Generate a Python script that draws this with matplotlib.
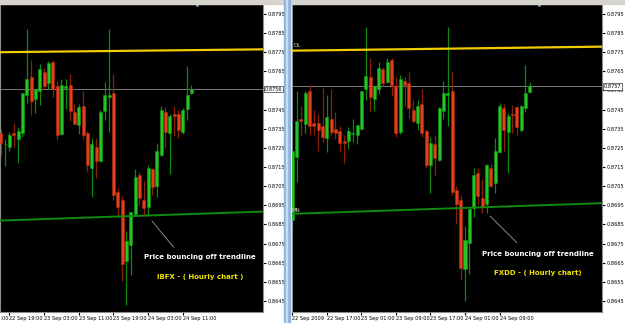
import matplotlib
matplotlib.use('Agg')
import matplotlib.pyplot as plt
from matplotlib.patches import Rectangle
import numpy as np

# ---- IBFX hourly candles (left chart) ----
ibfx_open = [0.87327, 0.87268, 0.87257, 0.87327, 0.87297, 0.87327, 0.87527, 0.87618, 0.87506, 0.87548,
             0.87649, 0.87588, 0.87701, 0.87571, 0.87323, 0.87562, 0.87579, 0.87436, 0.87367, 0.87470,
             0.87330, 0.87144, 0.87257, 0.87179, 0.87445, 0.87518, 0.87539, 0.87017, 0.86978, 0.86656,
             0.86743, 0.86905, 0.87109, 0.86978, 0.86940, 0.87139, 0.87051, 0.87213, 0.87440, 0.87327,
             0.87426, 0.87426, 0.87335, 0.87452, 0.87536]
ibfx_high = [0.87348, 0.87297, 0.87335, 0.87379, 0.87358, 0.87539, 0.87870, 0.87710, 0.87557, 0.87689,
             0.87670, 0.87706, 0.87710, 0.87600, 0.87609, 0.87609, 0.87637, 0.87480, 0.87480, 0.87548,
             0.87339, 0.87301, 0.87301, 0.87449, 0.87592, 0.87870, 0.87637, 0.87039, 0.86996, 0.86818,
             0.86917, 0.87139, 0.87126, 0.87078, 0.87161, 0.87144, 0.87278, 0.87470, 0.87463, 0.87428,
             0.87470, 0.87449, 0.87457, 0.87680, 0.87579]
ibfx_low = [0.87205, 0.87153, 0.87234, 0.87252, 0.87173, 0.87306, 0.87484, 0.87423, 0.87431, 0.87475,
            0.87557, 0.87557, 0.87515, 0.87292, 0.87318, 0.87452, 0.87393, 0.87375, 0.87323, 0.87295,
            0.87125, 0.86992, 0.87092, 0.87175, 0.87396, 0.87335, 0.86978, 0.86891, 0.86552, 0.86430,
            0.86586, 0.86900, 0.86952, 0.86900, 0.86900, 0.87004, 0.86992, 0.87208, 0.87248, 0.87114,
            0.87313, 0.87301, 0.87323, 0.87396, 0.87531]
ibfx_close = [0.87274, 0.87271, 0.87318, 0.87318, 0.87339, 0.87536, 0.87609, 0.87497, 0.87557, 0.87661,
              0.87574, 0.87691, 0.87557, 0.87318, 0.87579, 0.87571, 0.87445, 0.87375, 0.87461, 0.87316,
              0.87158, 0.87271, 0.87182, 0.87440, 0.87527, 0.87527, 0.87004, 0.86943, 0.86644, 0.86761,
              0.86917, 0.87100, 0.86987, 0.86938, 0.87147, 0.87048, 0.87231, 0.87449, 0.87335, 0.87414,
              0.87417, 0.87344, 0.87449, 0.87527, 0.87557]
ibfx_tick_bars = [-6, 2, 10, 18, 26, 34, 42]
ibfx_tick_labels = ['22 Sep 11:00', '22 Sep 19:00', '23 Sep 03:00', '23 Sep 11:00',
                    '23 Sep 19:00', '24 Sep 03:00', '24 Sep 11:00']
ibfx_resist = [0.87750, 0.87765]   # yellow line, left end / right end
ibfx_support = [0.86870, 0.86917]  # green trendline

# ---- FXDD hourly candles (right chart) ----
fxdd_open = [0.86874, 0.87200, 0.87400, 0.87375, 0.87548, 0.87379, 0.87379, 0.87362, 0.87301, 0.87400,
             0.87349, 0.87339, 0.87288, 0.87288, 0.87325, 0.87318, 0.87348, 0.87557, 0.87619, 0.87506,
             0.87558, 0.87661, 0.87595, 0.87710, 0.87571, 0.87335, 0.87600, 0.87588, 0.87449, 0.87379,
             0.87480, 0.87339, 0.87158, 0.87269, 0.87184, 0.87445, 0.87527, 0.87548, 0.87031, 0.86978,
             0.86616, 0.86755, 0.86935, 0.87118, 0.86987, 0.86957, 0.87147, 0.87065, 0.87226, 0.87457,
             0.87332, 0.87428, 0.87463, 0.87341, 0.87457, 0.87544]
fxdd_high = [0.87231, 0.87548, 0.87470, 0.87548, 0.87578, 0.87449, 0.87428, 0.87567, 0.87527, 0.87558,
             0.87436, 0.87365, 0.87318, 0.87358, 0.87400, 0.87367, 0.87548, 0.87881, 0.87722, 0.87579,
             0.87701, 0.87675, 0.87719, 0.87719, 0.87619, 0.87632, 0.87619, 0.87649, 0.87501, 0.87501,
             0.87558, 0.87349, 0.87309, 0.87318, 0.87461, 0.87600, 0.87881, 0.87649, 0.87053, 0.87001,
             0.86839, 0.86931, 0.87147, 0.87147, 0.87086, 0.87166, 0.87166, 0.87301, 0.87484, 0.87480,
             0.87431, 0.87475, 0.87470, 0.87473, 0.87684, 0.87592]
fxdd_low = [0.86813, 0.87071, 0.87315, 0.87327, 0.87315, 0.87318, 0.87234, 0.87283, 0.87226, 0.87318,
            0.87295, 0.87226, 0.87173, 0.87245, 0.87283, 0.87271, 0.87344, 0.87501, 0.87435, 0.87445,
            0.87532, 0.87571, 0.87588, 0.87522, 0.87306, 0.87323, 0.87470, 0.87405, 0.87379, 0.87344,
            0.87306, 0.87144, 0.87013, 0.87104, 0.87180, 0.87402, 0.87362, 0.87004, 0.86853, 0.86560,
            0.86452, 0.86592, 0.86891, 0.86952, 0.86909, 0.86909, 0.87048, 0.87013, 0.87222, 0.87231,
            0.87121, 0.87330, 0.87315, 0.87335, 0.87435, 0.87539]
fxdd_close = [0.87231, 0.87391, 0.87388, 0.87539, 0.87365, 0.87365, 0.87344, 0.87306, 0.87410, 0.87335,
              0.87327, 0.87278, 0.87274, 0.87339, 0.87330, 0.87367, 0.87548, 0.87628, 0.87518, 0.87571,
              0.87666, 0.87588, 0.87699, 0.87579, 0.87327, 0.87609, 0.87576, 0.87457, 0.87388, 0.87470,
              0.87327, 0.87161, 0.87274, 0.87196, 0.87457, 0.87539, 0.87539, 0.87017, 0.86957, 0.86621,
              0.86769, 0.86931, 0.87109, 0.86996, 0.86943, 0.87158, 0.87053, 0.87236, 0.87470, 0.87344,
              0.87419, 0.87423, 0.87358, 0.87470, 0.87539, 0.87571]
fxdd_tick_bars = [0, 8, 16, 24, 32, 40, 48]
fxdd_tick_labels = ['22 Sep 2009', '22 Sep 17:00', '23 Sep 01:00', '23 Sep 09:00',
                    '23 Sep 17:00', '24 Sep 01:00', '24 Sep 09:00']
fxdd_resist = [0.87758, 0.87779]
fxdd_support = [0.86905, 0.86961]

price_ticks = [0.8795, 0.8785, 0.8775, 0.8765, 0.8755, 0.8745, 0.8735, 0.8725,
               0.8715, 0.8705, 0.8695, 0.8685, 0.8675, 0.8665, 0.8655, 0.8645]

UP, DOWN = '#25c425', '#e2401c'
UP_W, DOWN_W = '#0c8a0c', '#8a2008'


def draw_chart(ax, o, h, l, c, xlim, tick_bars, tick_labels, resist, support,
               note, arrow, text_at, shift_bar):
    o, h, l, c = map(np.array, (o, h, l, c))
    x = np.arange(len(o))
    up = c >= o
    ax.set_facecolor('black')

    ax.vlines(x[up], l[up], h[up], color=UP_W, lw=0.9, zorder=2)
    ax.vlines(x[~up], l[~up], h[~up], color=DOWN_W, lw=0.9, zorder=2)
    bot = np.minimum(o, c)
    hgt = np.maximum(np.abs(c - o), 0.00002)
    ax.bar(x[up], hgt[up], bottom=bot[up], width=0.7, color=UP,
           edgecolor='#139a13', lw=0.4, zorder=3)
    ax.bar(x[~up], hgt[~up], bottom=bot[~up], width=0.7, color=DOWN,
           edgecolor='#b02a0a', lw=0.4, zorder=3)

    # trendlines
    ax.plot(xlim, resist, color='#f0cc00', lw=1.6, zorder=4)
    ax.plot(xlim, support, color='#108a10', lw=1.4, zorder=4)
    # current price line
    ax.axhline(c[-1], color='#7a7a7a', lw=0.7, zorder=1)
    ax.text(1.004, c[-1], f'{c[-1]:.4f}', transform=ax.get_yaxis_transform(),
            fontsize=3.6, va='center', ha='left', clip_on=False, zorder=10,
            bbox=dict(boxstyle='square,pad=0.12', fc='white', ec='black', lw=0.4))

    ax.yaxis.tick_right()
    ax.set_yticks(price_ticks)
    ax.set_yticklabels([f'{p:.4f}' for p in price_ticks])
    ax.tick_params(axis='y', labelsize=3.6, length=2, pad=1, colors='black')
    ax.set_xticks(tick_bars)
    ax.set_xticklabels(tick_labels, ha='left')
    ax.tick_params(axis='x', labelsize=3.6, length=2, pad=1, colors='black')
    # limits after ticks so out-of-range ticks do not widen the view
    ax.set_xlim(*xlim)
    ax.set_ylim(0.86392, 0.88002)
    for sp in ax.spines.values():
        sp.set_color('#8c8c8c')
        sp.set_linewidth(0.8)

    # date label that starts left of the visible window (cut by the edge)
    xt = ax.get_xaxis_transform()
    for b, lab in zip(tick_bars, tick_labels):
        if b < xlim[0]:
            ax.text(b, -0.012, lab, transform=xt, fontsize=3.6, ha='left', va='top',
                    clip_on=False)

    # chart-shift marker at the top edge
    ax.plot([shift_bar], [1.0], marker='v', ms=3, color='#8aa4c0', transform=xt,
            clip_on=False, zorder=6)

    ax.plot([arrow[0], arrow[2]], [arrow[1], arrow[3]], color='#9a9a9a', lw=0.6, zorder=4)
    ax.text(text_at[0], text_at[1], 'Price bouncing off trendline', color='white',
            fontsize=5.0, fontweight='bold', ha='center', va='center')
    ax.text(text_at[0], text_at[2], note, color='#f0e000',
            fontsize=5.0, fontweight='bold', ha='center', va='center')


fig = plt.figure(figsize=(6.25, 3.23), dpi=100, facecolor='white')
fig.patches.append(Rectangle((0, 1 - 3.5 / 323), 1, 3.5 / 323, transform=fig.transFigure,
                             color='#d6d3ce', zorder=0))
fig.patches.append(Rectangle((284 / 625, 0), 5.5 / 625, 1, transform=fig.transFigure,
                             color='#8fb2dc', zorder=0))
fig.patches.append(Rectangle((285.8 / 625, 0), 1.6 / 625, 1, transform=fig.transFigure,
                             color='#c9dcf2', zorder=0))

bottom, height = 1 - 312 / 323, 308 / 323
ax1 = fig.add_axes([0, bottom, 263.3 / 625, height])
ax2 = fig.add_axes([291.7 / 625, bottom, 310.6 / 625, height])

draw_chart(ax1, ibfx_open, ibfx_high, ibfx_low, ibfx_close, (-0.16, 60.6),
           ibfx_tick_bars, ibfx_tick_labels, ibfx_resist, ibfx_support,
           'IBFX - ( Hourly chart )', (34.9, 0.86868, 39.9, 0.86731),
           (46.0, 0.86680, 0.86574), 45.3)
draw_chart(ax2, fxdd_open, fxdd_high, fxdd_low, fxdd_close, (-0.14, 71.8),
           fxdd_tick_bars, fxdd_tick_labels, fxdd_resist, fxdd_support,
           'FXDD - ( Hourly chart)', (45.8, 0.86894, 52.0, 0.86755),
           (56.9, 0.86696, 0.86595), 57.2)

ax2.text(0.006, 0.87770, 'DL', color='#d0d0d0', fontsize=4, va='bottom',
         transform=ax2.get_yaxis_transform())
ax2.text(0.0, 0.86912, 'MN', color='#d0d0d0', fontsize=4, va='bottom',
         transform=ax2.get_yaxis_transform())

fig.savefig('out.png', dpi=100, facecolor='white')
